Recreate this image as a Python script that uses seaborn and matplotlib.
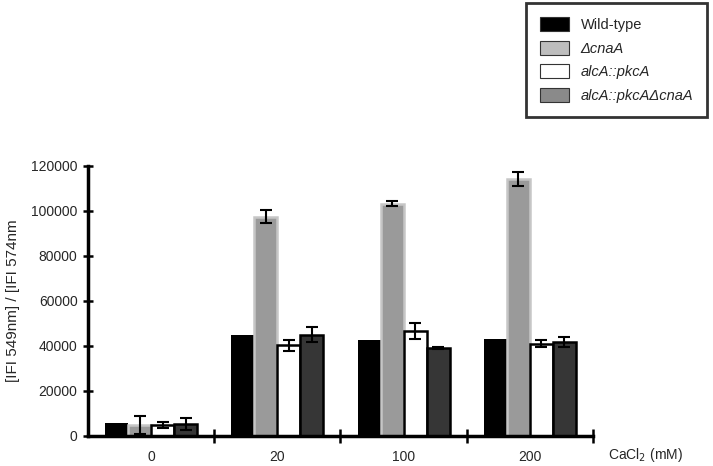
import matplotlib
matplotlib.use('Agg')
import matplotlib.pyplot as plt
from matplotlib.patches import Patch
import seaborn as sns
import pandas as pd
import numpy as np

# CaCl2 concentration (mM)
conc = ['0', '20', '100', '200']
strains = ['Wild-type', 'ΔcnaA', 'alcA::pkcA', 'alcA::pkcAΔcnaA']

# [IFI 549nm] / [IFI 574nm]
wild_type = [5800, 44800, 42500, 43200]
cnaA = [5000, 97500, 103200, 114300]
pkcA = [4900, 40300, 46700, 41000]
pkcA_cnaA = [5400, 45000, 39200, 41800]

wild_type_err = [0, 0, 0, 0]
cnaA_err = [3900, 2800, 1200, 3000]
pkcA_err = [1500, 2400, 3400, 1600]
pkcA_cnaA_err = [2600, 3400, 400, 2400]

values = [wild_type, cnaA, pkcA, pkcA_cnaA]
errors = [wild_type_err, cnaA_err, pkcA_err, pkcA_cnaA_err]

bar_colors = ['#000000', '#9a9a9a', '#ffffff', '#363636']
edge_colors = ['#000000', '#c6c6c6', '#000000', '#000000']
legend_colors = ['#000000', '#bdbdbd', '#ffffff', '#8a8a8a']

df = pd.DataFrame({
    'conc': conc * len(strains),
    'strain': np.repeat(strains, len(conc)),
    'value': sum(values, []),
    'err': sum(errors, []),
})

sns.set_style('white')
plt.rcParams['font.family'] = ['Liberation Sans', 'DejaVu Sans']

fig = plt.figure(figsize=(7.13, 4.66), dpi=100)
ax = fig.add_axes([0.1234, 0.0644, 0.7083, 0.5794])

sns.barplot(data=df, x='conc', y='value', hue='strain', order=conc, hue_order=strains,
            palette=bar_colors, width=0.73, errorbar=None, saturation=1, legend=False, ax=ax)

# style bars per series and add error bars
bar_groups = list(ax.containers)
for i, cont in enumerate(bar_groups):
    for bar, err in zip(cont, errors[i]):
        bar.set_edgecolor(edge_colors[i])
        bar.set_linewidth(0 if i == 0 else 1.8)
        if err > 0:
            cx = bar.get_x() + bar.get_width() / 2
            ax.errorbar(cx, bar.get_height(), yerr=err, color='black', capsize=4,
                        capthick=1.5, elinewidth=1.5, zorder=5)

ax.set_xlim(-0.5, 3.5)
ax.set_ylim(0, 120000)
ax.set_yticks(np.arange(0, 120001, 20000))
ax.set_xlabel('')
ax.set_ylabel('[IFI 549nm] / [IFI 574nm', fontsize=11, labelpad=8)
ax.tick_params(axis='y', left=True, direction='inout', length=7, width=1.8,
               color='black', labelsize=10, pad=4)
ax.tick_params(axis='x', which='major', bottom=False, length=0, labelsize=10, pad=10)
ax.set_xticks([0.5, 1.5, 2.5, 3.5], minor=True)
ax.tick_params(axis='x', which='minor', bottom=True, direction='inout', length=10,
               width=1.8, color='black')

sns.despine(ax=ax)
for s in ['left', 'bottom']:
    ax.spines[s].set_linewidth(2.5)
    ax.spines[s].set_color('black')

fig.text(0.853, 0.024, 'CaCl$_2$ (mM)', fontsize=10, va='center', ha='left')

handles = [Patch(facecolor=c, edgecolor='#333333', linewidth=0.8) for c in legend_colors]
leg = fig.legend(handles, strains, loc='upper left', bbox_to_anchor=(0.7377, 0.9936),
                 frameon=True, fancybox=False, fontsize=10.5, handlelength=2.0, handleheight=1.1,
                 labelspacing=0.6, borderpad=0.95, handletextpad=0.8, borderaxespad=0)
leg.get_frame().set_edgecolor('black')
leg.get_frame().set_linewidth(2)
for i, t in enumerate(leg.get_texts()):
    if i > 0:
        t.set_style('italic')

fig.savefig('out.png', dpi=100)
